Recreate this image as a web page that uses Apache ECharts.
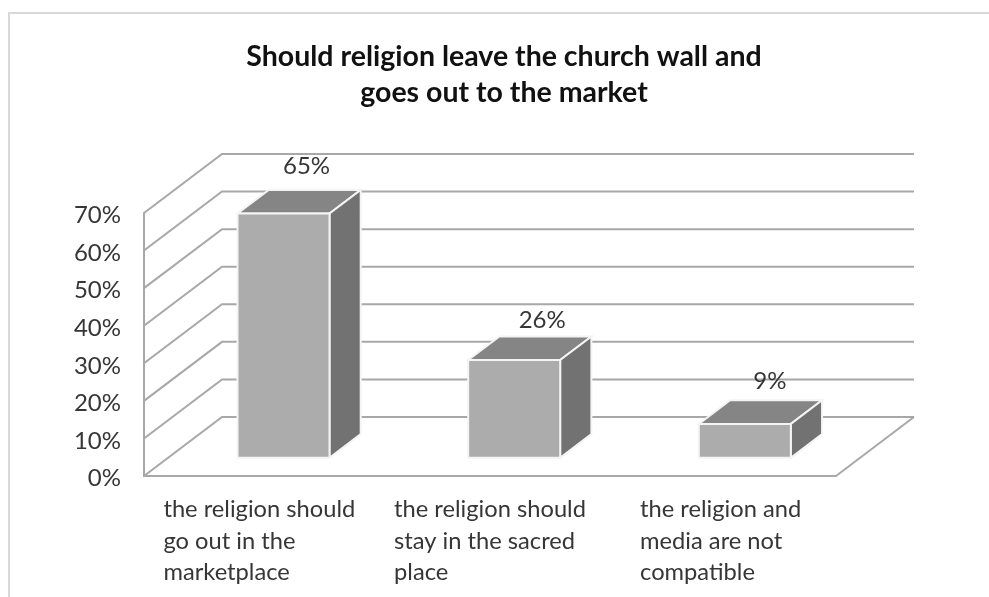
<!DOCTYPE html>
<html>
<head>
<meta charset="utf-8">
<style>html,body{margin:0;padding:0;background:#fff}#chart{width:989px;height:597px}</style>
<script src="https://cdn.jsdelivr.net/npm/echarts@6/dist/echarts.min.js"></script>
</head>
<body>
<div id="chart"></div>
<script>
// Survey results, percent of respondents
const titleText = 'Should religion leave the church wall and\ngoes out to the market';
const categories = [
  'the religion should\ngo out in the\nmarketplace',
  'the religion should\nstay in the sacred\nplace',
  'the religion and\nmedia are not\ncompatible'
];
const shares = [65, 26, 9];
const wallTicks = [0, 10, 20, 30, 40, 50, 60, 70];

// Oblique projection used for the pseudo-3D box
const DEPTH_X = 78, DEPTH_Y = -59;
const BAR_W = 92, BAR_START = 0.31, BAR_DEPTH = 0.4;
const LABEL_LIFT = [24, 16, 19];
const LABEL_SHIFT = [23, 28, 25];
const GRID_COLOR = '#a8a8a8', TEXT_COLOR = '#363636', FONT = 'Lato, "Open Sans", sans-serif';

function poly(points, fill, z2) {
  return {
    type: 'polygon', z2: z2 || 1,
    shape: { points },
    style: { fill, stroke: '#f4f4f4', lineWidth: 2, lineJoin: 'miter' }
  };
}

// One gridline: from the front axis, back across the side wall, then along the back wall
function renderWall(params, api) {
  const cs = params.coordSys;
  const y = api.coord([0, api.value(1)])[1];
  const x0 = cs.x, bx = x0 + DEPTH_X, by = y + DEPTH_Y;
  const children = [{
    type: 'polyline',
    shape: { points: [[x0, y], [bx, by], [cs.x + cs.width + DEPTH_X, by]] },
    style: { fill: 'none', stroke: GRID_COLOR, lineWidth: 2 }
  }];
  if (api.value(1) === 0) {
    children.push({
      type: 'line',
      shape: { x1: cs.x + cs.width, y1: y, x2: cs.x + cs.width + DEPTH_X, y2: by },
      style: { stroke: GRID_COLOR, lineWidth: 2 }
    });
  }
  return { type: 'group', children };
}

// Box with front, top and side faces plus its value label
function renderBox(params, api) {
  const i = api.value(0), v = api.value(1);
  const base = api.coord([i, 0]), top = api.coord([i, v]);
  const ox = DEPTH_X * BAR_START, oy = DEPTH_Y * BAR_START;
  const dx = DEPTH_X * BAR_DEPTH, dy = DEPTH_Y * BAR_DEPTH;
  const l = base[0] + ox - BAR_W / 2, r = l + BAR_W;
  const b = base[1] + oy, t = top[1] + oy;
  return {
    type: 'group',
    children: [
      poly([[l, t], [r, t], [r + dx, t + dy], [l + dx, t + dy]], '#858585'),
      poly([[r, b], [r + dx, b + dy], [r + dx, t + dy], [r, t]], '#727272'),
      poly([[l, b], [r, b], [r, t], [l, t]], '#acacac'),
      {
        type: 'text', z2: 5,
        style: {
          text: v + '%',
          x: base[0] + ox + LABEL_SHIFT[i],
          y: t + dy - LABEL_LIFT[i],
          align: 'center', verticalAlign: 'middle',
          font: '24px ' + FONT, fill: TEXT_COLOR
        }
      }
    ]
  };
}

const chart = echarts.init(document.getElementById('chart'), null, { renderer: 'canvas' });
chart.setOption({
  animation: false,
  backgroundColor: '#ffffff',
  graphic: [{
    type: 'polyline', silent: true, z: -1,
    shape: { points: [[9, 597], [9, 13], [989, 13]] },
    style: { fill: 'none', stroke: '#d9d9d9', lineWidth: 2 }
  }],
  title: {
    text: titleText, left: 499, top: 34, textAlign: 'center',
    textStyle: { fontFamily: FONT, fontWeight: 'bold', fontSize: 28.5, lineHeight: 36, color: '#111111' }
  },
  grid: { left: 144, top: 213, width: 692, height: 263, containLabel: false },
  xAxis: {
    type: 'category',
    data: categories,
    axisTick: { show: false },
    axisLine: { lineStyle: { color: GRID_COLOR, width: 2 } },
    axisLabel: {
      margin: 18, interval: 0,
      formatter: s => s.split('\n').map(t => '{a|' + t + '}').join('\n'),
      rich: { a: { align: 'left', fontFamily: FONT, fontSize: 23.7, lineHeight: 31.5, color: TEXT_COLOR } }
    }
  },
  yAxis: {
    type: 'value', min: 0, max: 70, interval: 10,
    splitLine: { show: false },
    axisTick: { show: false },
    axisLine: { show: true, lineStyle: { color: GRID_COLOR, width: 2 } },
    axisLabel: {
      margin: 23,
      formatter: '{a|{value}%}',
      rich: { a: { fontFamily: FONT, fontSize: 24, color: TEXT_COLOR, padding: [5, 0, 0, 0] } }
    }
  },
  series: [
    {
      type: 'custom', silent: true, clip: false, z: 1,
      renderItem: renderWall,
      encode: { x: 0, y: 1 },
      data: wallTicks.map(v => [0, v])
    },
    {
      type: 'custom', silent: true, clip: false, z: 2,
      renderItem: renderBox,
      encode: { x: 0, y: 1 },
      data: shares.map((v, i) => [i, v])
    }
  ]
});
</script>
</body>
</html>
